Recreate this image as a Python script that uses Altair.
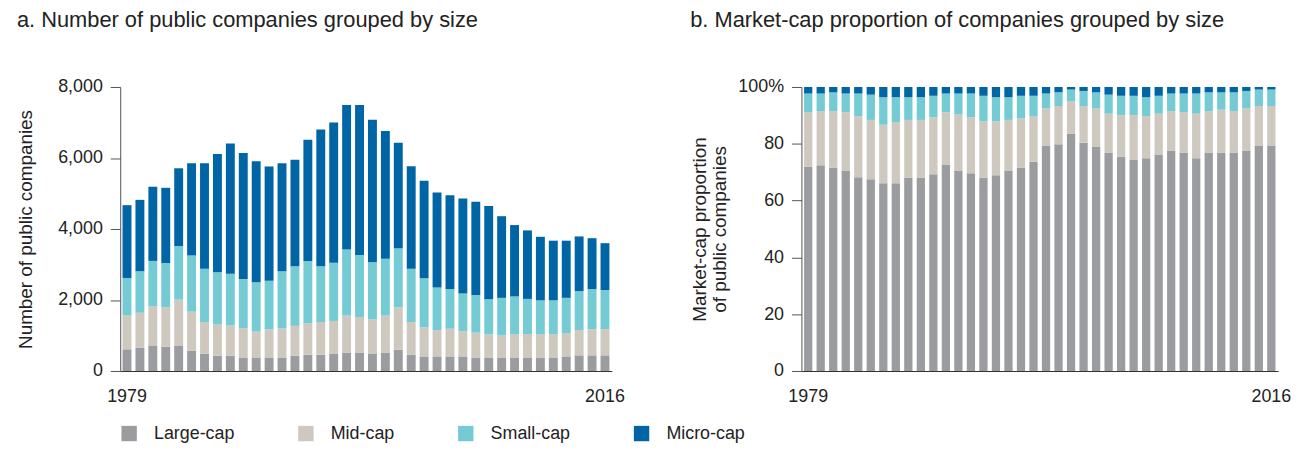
import altair as alt
import pandas as pd

years = list(range(1979, 2017))
caps = ["Large-cap", "Mid-cap", "Small-cap", "Micro-cap"]
colors = ["#9b9c9f", "#cec8be", "#74cbd4", "#0065a4"]

# Panel a: number of public companies by size
large_n = [610, 650, 720, 680, 720, 570, 490, 430, 430, 380, 380, 380, 380, 430, 460, 460, 480, 520, 520,
           480, 520, 600, 460, 410, 410, 410, 410, 380, 380, 380, 380, 380, 380, 380, 410, 440, 440, 440]
mid_n = [950, 990, 1100, 1110, 1290, 1100, 890, 880, 850, 820, 730, 790, 820, 840, 880, 920, 930, 1040, 1000,
         970, 1040, 1190, 920, 820, 740, 780, 710, 700, 650, 620, 660, 660, 660, 660, 660, 710, 740, 740]
small_n = [1060, 1170, 1280, 1250, 1510, 1580, 1500, 1470, 1460, 1390, 1390, 1370, 1610, 1680, 1760, 1570, 1640,
           1860, 1750, 1610, 1600, 1670, 1500, 1380, 1200, 1120, 1060, 1060, 990, 1060, 1060, 990, 950, 950, 990,
           1100, 1130, 1100]
micro_n = [2050, 2010, 2090, 2120, 2190, 2600, 2970, 3330, 3670, 3550, 3410, 3220, 3040, 3000, 3410, 3850, 3950,
           4070, 4220, 4020, 3600, 2970, 2890, 2750, 2680, 2640, 2680, 2630, 2630, 2300, 2010, 1930, 1790, 1680,
           1610, 1540, 1430, 1320]

# Panel b: market-cap proportion (%) by size
large_p = [71.9, 72.4, 71.5, 70.6, 68.2, 67.5, 66.1, 66.1, 68.0, 68.0, 69.3, 72.7, 70.6, 69.6, 68.0, 68.9, 70.6,
           71.5, 73.7, 79.4, 79.8, 83.5, 80.4, 79.0, 76.8, 75.5, 74.5, 74.9, 76.2, 77.6, 76.8, 74.9, 76.8, 76.8,
           76.8, 77.6, 79.4, 79.4]
mid_p = [19.2, 19.1, 20.0, 20.5, 21.5, 20.9, 20.6, 21.5, 20.4, 20.4, 20.0, 18.4, 19.7, 19.7, 19.9, 19.0, 17.8,
         17.4, 16.0, 13.1, 13.5, 11.5, 12.9, 13.5, 13.8, 14.6, 15.6, 14.8, 14.4, 13.9, 14.3, 15.7, 14.7, 15.2,
         14.7, 14.9, 13.9, 13.9]
small_p = [6.6, 6.2, 6.6, 6.6, 8.0, 8.9, 9.7, 8.8, 8.0, 8.0, 7.6, 6.6, 7.4, 8.4, 9.0, 8.5, 8.0, 8.0, 7.2, 5.2,
           4.8, 4.1, 5.3, 5.6, 6.7, 6.8, 6.8, 6.7, 6.3, 6.2, 6.6, 7.1, 6.6, 6.1, 6.6, 6.1, 5.8, 5.8]
micro_p = [2.3, 2.3, 1.9, 2.3, 2.3, 2.7, 3.6, 3.6, 3.6, 3.6, 3.1, 2.3, 2.3, 2.3, 3.1, 3.6, 3.6, 3.1, 3.1, 2.3,
           1.9, 0.9, 1.4, 1.9, 2.7, 3.1, 3.1, 3.6, 3.1, 2.3, 2.3, 2.3, 1.9, 1.9, 1.9, 1.4, 0.9, 0.9]


def long_table(series):
    rows = []
    for k, (cap, vals) in enumerate(zip(caps, series)):
        for y, v in zip(years, vals):
            rows.append({"year": y, "cap": cap, "value": v, "order": k})
    return pd.DataFrame(rows)


df_a = long_table([large_n, mid_n, small_n, micro_n])
df_b = long_table([large_p, mid_p, small_p, micro_p])

FONT = "Liberation Sans"
TXT = "#222222"

color = alt.Color(
    "cap:N",
    scale=alt.Scale(domain=caps, range=colors),
    legend=alt.Legend(
        title=None, orient="bottom", direction="horizontal", offset=19,
        symbolType="square", symbolSize=240, symbolStrokeWidth=0,
        labelFontSize=18, labelFont=FONT, labelColor=TXT, labelOffset=16,
        columnPadding=62, labelLimit=300,
    ),
)

x_axis = alt.Axis(
    title=None, labelAngle=0, ticks=False, labelPadding=17,
    labelExpr="datum.value == 1979 || datum.value == 2016 ? datum.label : ''",
    labelFontSize=18, labelFont=FONT, labelColor=TXT,
    domainColor="#333333", domainWidth=1.2,
)

chart_a = alt.Chart(df_a).mark_bar().encode(
    x=alt.X("year:O", axis=x_axis, scale=alt.Scale(paddingInner=0.31, paddingOuter=0.18)),
    y=alt.Y(
        "value:Q", stack="zero",
        scale=alt.Scale(domain=[0, 8000]),
        axis=alt.Axis(
            title="Number of public companies", values=[0, 2000, 4000, 6000, 8000], format=",d",
            grid=False, tickSize=10, tickColor="#555555", domainColor="#555555",
            labelFontSize=18, labelFont=FONT, labelColor=TXT, labelPadding=8,
            titleFontSize=19, titleFont=FONT, titleColor=TXT, titleFontWeight="normal", titlePadding=22,
        ),
    ),
    color=color,
    order=alt.Order("order:Q", sort="ascending"),
).properties(
    width=495, height=286,
    title=alt.TitleParams("a. Number of public companies grouped by size", anchor="start", frame="bounds",
                          fontSize=22, font=FONT, fontWeight="normal", color=TXT, offset=46),
)

chart_b = alt.Chart(df_b).mark_bar().encode(
    x=alt.X("year:O", axis=x_axis, scale=alt.Scale(paddingInner=0.34, paddingOuter=0.21)),
    y=alt.Y(
        "value:Q", stack="zero",
        scale=alt.Scale(domain=[0, 100]),
        axis=alt.Axis(
            title=["Market-cap proportion", "of public companies"], values=[0, 20, 40, 60, 80, 100],
            labelExpr="datum.value == 100 ? '100%' : datum.label",
            grid=False, tickSize=10, tickColor="#555555", domainColor="#555555",
            labelFontSize=18, labelFont=FONT, labelColor=TXT, labelPadding=8,
            titleFontSize=19, titleFont=FONT, titleColor=TXT, titleFontWeight="normal", titlePadding=8,
            titleLineHeight=21,
        ),
    ),
    color=color,
    order=alt.Order("order:Q", sort="ascending"),
).properties(
    width=480, height=286,
    title=alt.TitleParams("b. Market-cap proportion of companies grouped by size", anchor="start",
                          frame="bounds", fontSize=22, font=FONT, fontWeight="normal", color=TXT, offset=46),
)

chart = alt.hconcat(chart_a, chart_b, spacing=65).properties(
    padding={"left": 8, "top": 0, "right": 0, "bottom": 0}
).configure_view(stroke=None).configure_axis(labelFont=FONT, titleFont=FONT)

chart.save("out.html", embed_options={"renderer": "svg", "actions": False})
